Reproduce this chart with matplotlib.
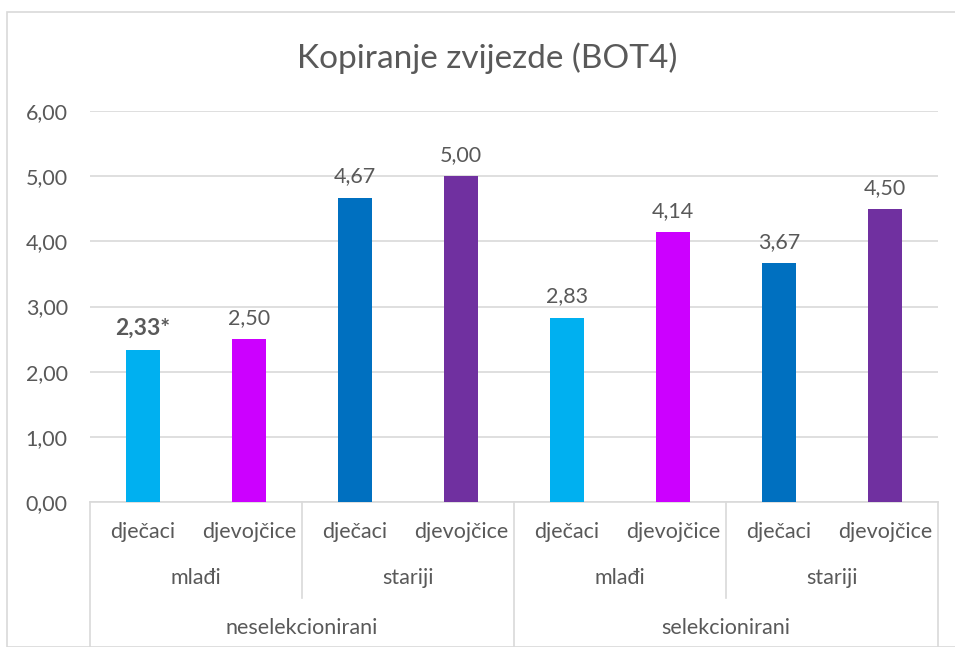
import matplotlib

matplotlib.use("Agg")
import matplotlib.pyplot as plt
from matplotlib.patches import Rectangle
from matplotlib.transforms import blended_transform_factory

plt.rcParams["font.family"] = ["Lato", "DejaVu Sans"]

TITLE = "Kopiranje zvijezde (BOT4)"
GENDER = ["dječaci", "djevojčice", "dječaci", "djevojčice",
          "dječaci", "djevojčice", "dječaci", "djevojčice"]
AGE = ["mlađi", "stariji", "mlađi", "stariji"]
SELECTION = ["neselekcionirani", "selekcionirani"]
VALUES = [2.33, 2.50, 4.67, 5.00, 2.83, 4.14, 3.67, 4.50]
LABELS = ["2,33*", "2,50", "4,67", "5,00", "2,83", "4,14", "3,67", "4,50"]
BOLD = [True, False, False, False, False, False, False, False]
COLORS = ["#00B0F0", "#CC00FF", "#0070C0", "#7030A0",
          "#00B0F0", "#CC00FF", "#0070C0", "#7030A0"]

TEXT = "#595959"
GRID = "#D9D9D9"
FS = 15.5

W, H = 955, 647
fig = plt.figure(figsize=(W / 100, H / 100), dpi=100)

# chart border (runs off the right and bottom edge)
fig.patches.append(Rectangle((7 / W, 0), 2, 1 - 12 / H, transform=fig.transFigure,
                             fill=False, edgecolor=GRID, linewidth=1.2))

x0, x1, ytop, ybot = 90, 938, 111, 502
ax = fig.add_axes([x0 / W, 1 - ybot / H, (x1 - x0) / W, (ybot - ytop) / H])

xs = list(range(len(VALUES)))
ax.bar(xs, VALUES, width=0.32, color=COLORS, zorder=3)
ax.set_xlim(-0.5, len(VALUES) - 0.5)
ax.set_ylim(0, 6)
ax.set_yticks([0, 1, 2, 3, 4, 5, 6])
ax.set_yticklabels([f"{v:.2f}".replace(".", ",") for v in range(7)],
                   fontsize=FS, color=TEXT)
ax.tick_params(axis="y", length=0, pad=16)
ax.tick_params(axis="x", length=0, labelbottom=False)
ax.grid(axis="y", color=GRID, linewidth=1.2, zorder=0)
for side in ["left", "right", "top"]:
    ax.spines[side].set_visible(False)
ax.spines["bottom"].set_color(GRID)
ax.spines["bottom"].set_linewidth(1.2)

for x, v, lab, b in zip(xs, VALUES, LABELS, BOLD):
    ax.annotate(lab, (x, v), xytext=(0, 8), textcoords="offset points",
                ha="center", va="bottom", fontsize=16.5 if b else FS, color=TEXT,
                fontweight="bold" if b else "normal")

# multi-level category axis
tr = blended_transform_factory(ax.transData, ax.transAxes)
ph = ybot - ytop


def ay(py):
    return (ybot - py) / ph


for x, g in zip(xs, GENDER):
    ax.text(x, ay(532), g, transform=tr, ha="center", va="center",
            fontsize=FS, color=TEXT)
for i, a in enumerate(AGE):
    ax.text(2 * i + 0.5, ay(578), a, transform=tr, ha="center", va="center",
            fontsize=FS, color=TEXT)
for i, s in enumerate(SELECTION):
    ax.text(4 * i + 1.5, ay(628), s, transform=tr, ha="center", va="center",
            fontsize=FS, color=TEXT)

for xb in [-0.5, 1.5, 3.5, 5.5, 7.5]:
    outer = xb in (-0.5, 3.5, 7.5)
    ax.plot([xb, xb], [0, ay(H + 5) if outer else ay(598)], transform=tr,
            color=GRID, linewidth=1.2, clip_on=False)

fig.text(487 / W, 1 - 58 / H, TITLE, ha="center", va="center", fontsize=24, color=TEXT)

fig.savefig("out.png", dpi=100)
